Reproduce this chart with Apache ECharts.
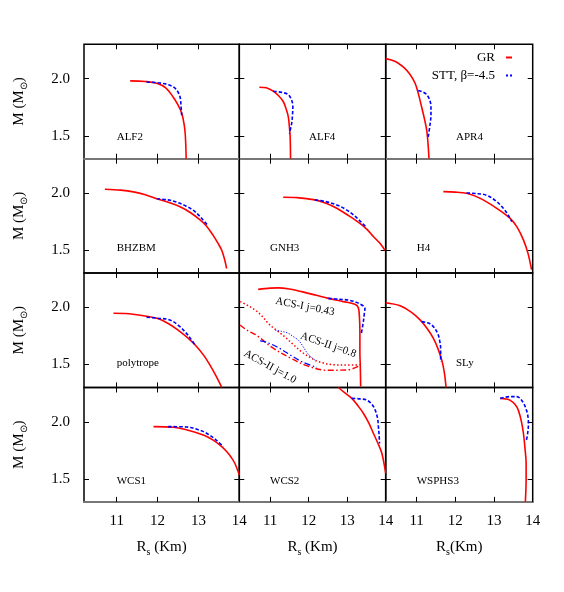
<!DOCTYPE html>
<html><head><meta charset="utf-8">
<script src="https://cdn.jsdelivr.net/npm/echarts@6/dist/echarts.min.js"></script>
<style>html,body{margin:0;padding:0;background:#fff}#c{width:564px;height:592px}</style>
</head><body><div id="c"></div>
<script>
// ---- data ----
const xTicks = [11, 12, 13, 14];
const yTicks = [1.5, 2.0];
const xRange = [10.2, 14];
const yRange = [1.3, 2.3];
const eosLabels = ['ALF2','ALF4','APR4','BHZBM','GNH3','H4','polytrope','','SLy','WCS1','WCS2','WSPHS3'];
const xNames = ['{a|R}{s|s}{a| (Km)}', '{a|R}{s|s}{a| (Km)}', '{a|R}{s|s}{a|(Km)}'];
const yName = '{a|M (M}{s|⊙}{a|)}';
const legendGR = 'GR';
const legendSTT = 'STT, β=-4.5';

const ALF2_GR = [[11.33,1.98],[11.7,1.975],[11.98,1.96],[12.2,1.92],[12.38,1.84],[12.5,1.77],[12.59,1.70],[12.65,1.60],[12.68,1.50],[12.7,1.30]];
const ALF2_STT = [[11.73,1.97],[12.1,1.96],[12.35,1.935],[12.47,1.90],[12.55,1.84],[12.57,1.78],[12.59,1.68]];
const ALF4_GR = [[10.72,1.925],[10.9,1.92],[11.08,1.89],[11.22,1.85],[11.34,1.80],[11.42,1.73],[11.47,1.67],[11.5,1.58],[11.52,1.49],[11.53,1.30]];
const ALF4_STT = [[11.08,1.89],[11.3,1.88],[11.47,1.86],[11.56,1.81],[11.59,1.76],[11.58,1.68],[11.56,1.61],[11.50,1.52]];
const APR4_GR = [[10.2,2.175],[10.45,2.15],[10.66,2.10],[10.82,2.04],[10.96,1.96],[11.05,1.86],[11.13,1.75],[11.2,1.65],[11.26,1.55],[11.29,1.45],[11.32,1.30]];
const APR4_STT = [[11.04,1.895],[11.15,1.885],[11.26,1.86],[11.34,1.81],[11.37,1.755],[11.37,1.68],[11.35,1.61],[11.30,1.49]];
const BHZBM_GR = [[10.71,2.033],[11.1,2.025],[11.41,2.01],[11.7,1.985],[11.98,1.95],[12.3,1.915],[12.55,1.88],[12.8,1.83],[13.04,1.765],[13.2,1.71],[13.36,1.63],[13.48,1.56],[13.57,1.50],[13.64,1.42],[13.69,1.34]];
const BHZBM_STT = [[11.98,1.95],[12.25,1.94],[12.47,1.92],[12.7,1.885],[12.87,1.85],[13.05,1.79],[13.24,1.71]];
const GNH3_GR = [[11.34,1.963],[11.7,1.96],[12.16,1.94],[12.45,1.91],[12.73,1.867],[13.05,1.80],[13.33,1.735],[13.52,1.68],[13.68,1.62],[13.85,1.56],[13.98,1.50]];
const GNH3_STT = [[12.16,1.94],[12.45,1.925],[12.73,1.896],[12.95,1.86],[13.16,1.81],[13.35,1.75],[13.5,1.70]];
const H4_GR = [[11.69,2.012],[12.0,2.008],[12.29,1.998],[12.5,1.975],[12.72,1.94],[13.1,1.86],[13.41,1.78],[13.6,1.70],[13.76,1.59],[13.88,1.47],[13.97,1.33]];
const H4_STT = [[12.29,2.0],[12.55,1.995],[12.81,1.98],[13.05,1.93],[13.24,1.867],[13.36,1.81],[13.46,1.75]];
const POLY_GR = [[10.92,1.948],[11.4,1.94],[11.98,1.904],[12.3,1.85],[12.55,1.787],[12.78,1.72],[12.96,1.656],[13.13,1.58],[13.28,1.497],[13.43,1.40],[13.57,1.30]];
const POLY_STT = [[11.73,1.913],[12.0,1.905],[12.3,1.89],[12.5,1.845],[12.67,1.787],[12.8,1.73],[12.92,1.67]];
const ACS1_GR = [[10.69,2.157],[11.0,2.168],[11.21,2.17],[11.5,2.16],[11.82,2.137],[12.2,2.105],[12.51,2.078],[12.9,2.05],[13.2,2.027],[13.29,1.997],[13.32,1.90],[13.33,1.79],[13.33,1.60],[13.34,1.497],[13.35,1.307]];
const ACS1_STT = [[12.51,2.078],[12.8,2.07],[13.03,2.063],[13.3,2.035],[13.46,1.99],[13.44,1.93],[13.42,1.875],[13.36,1.757]];
const ACS2a_GR = [[10.22,2.05],[10.4,2.02],[10.61,1.977],[10.8,1.92],[10.95,1.86],[11.2,1.79],[11.39,1.74],[11.6,1.675],[11.82,1.61],[12.05,1.56],[12.25,1.525],[12.68,1.497],[13.12,1.495],[13.33,1.497]];
const ACS2a_STT = [[11.13,1.80],[11.3,1.79],[11.47,1.773],[11.62,1.74],[11.73,1.714],[11.85,1.66],[11.95,1.607],[12.05,1.57],[12.16,1.54]];
const ACS2b_GR = [[10.22,1.846],[10.4,1.80],[10.65,1.755],[11.07,1.645],[11.52,1.558],[11.95,1.49],[12.47,1.45],[12.99,1.452],[13.33,1.49]];
const ACS2b_STT = [[10.74,1.706],[10.9,1.695],[11.17,1.656],[11.52,1.584],[11.82,1.525],[12.21,1.475]];
const SLY_GR = [[10.2,2.04],[10.57,2.014],[10.85,1.96],[11.09,1.89],[11.28,1.81],[11.43,1.73],[11.56,1.63],[11.66,1.525],[11.72,1.42],[11.76,1.30]];
const SLY_STT = [[11.13,1.875],[11.28,1.865],[11.39,1.846],[11.5,1.80],[11.56,1.758],[11.6,1.70],[11.62,1.642],[11.62,1.58],[11.62,1.525]];
const WCS1_GR = [[11.90,1.958],[12.39,1.952],[12.88,1.914],[13.15,1.88],[13.36,1.84],[13.55,1.79],[13.69,1.74],[13.8,1.69],[13.89,1.638],[14.0,1.536]];
const WCS1_STT = [[12.26,1.958],[12.71,1.955],[13.0,1.93],[13.2,1.90],[13.42,1.845],[13.61,1.783]];
const WCS2_GR = [[12.77,2.3],[12.95,2.25],[13.12,2.205],[13.28,2.14],[13.42,2.075],[13.56,1.99],[13.68,1.90],[13.8,1.81],[13.9,1.725],[14.0,1.55]];
const WCS2_STT = [[13.12,2.205],[13.35,2.20],[13.51,2.19],[13.65,2.15],[13.73,2.10],[13.79,2.03],[13.81,1.958],[13.83,1.88],[13.84,1.81]];
const WSPHS3_GR = [[13.16,2.205],[13.3,2.2],[13.41,2.19],[13.55,2.15],[13.63,2.10],[13.71,2.0],[13.76,1.90],[13.8,1.77],[13.83,1.638],[13.83,1.5],[13.81,1.3]];
const WSPHS3_STT = [[13.16,2.205],[13.4,2.22],[13.59,2.22],[13.75,2.17],[13.84,2.10],[13.88,2.04],[13.89,1.987],[13.87,1.9],[13.83,1.827]];

// ---- layout / style ----
const FONT = 'Liberation Serif, Times New Roman, serif';
const RED = '#ff0000', BLUE = '#0000ff';
const colLeft = [84, 239.3, 385.7], colW = [155.3, 146.4, 147];
const rowTop = [44.3, 158.7, 273, 387.5], rowH = 114.4;

const panels = [
  {gr: ALF2_GR, stt: ALF2_STT}, {gr: ALF4_GR, stt: ALF4_STT}, {gr: APR4_GR, stt: APR4_STT},
  {gr: BHZBM_GR, stt: BHZBM_STT}, {gr: GNH3_GR, stt: GNH3_STT}, {gr: H4_GR, stt: H4_STT},
  {gr: POLY_GR, stt: POLY_STT}, {acs: true}, {gr: SLY_GR, stt: SLY_STT},
  {gr: WCS1_GR, stt: WCS1_STT}, {gr: WCS2_GR, stt: WCS2_STT}, {gr: WSPHS3_GR, stt: WSPHS3_STT}
];

const grid = [], xAxis = [], yAxis = [], series = [];
const richSub = {
  a: {fontFamily: FONT, fontSize: 15, color: '#000', lineHeight: 20},
  s: {fontFamily: FONT, fontSize: 10, color: '#000', lineHeight: 10, verticalAlign: 'bottom'}
};

function line(name, data, gi, color, type, width) {
  return {
    type: 'line', name, data, xAxisIndex: 2 * gi, yAxisIndex: 2 * gi,
    symbol: 'none', showSymbol: false, smooth: 0.35, animation: false,
    lineStyle: {color, type, width}, itemStyle: {color}
  };
}

panels.forEach((p, i) => {
  const r = Math.floor(i / 3), c = i % 3;
  grid.push({left: colLeft[c], top: rowTop[r], width: colW[c], height: rowH,
    show: true, borderColor: '#000', borderWidth: 1.5, backgroundColor: 'transparent'});
  const grayBottom = (r === 0 || r === 3);
  xAxis.push({
    gridIndex: i, type: 'value', min: xRange[0], max: xRange[1], position: 'bottom',
    axisLine: {show: grayBottom, onZero: false, lineStyle: {color: '#777', width: 2.2}},
    axisTick: {show: true, inside: true, length: 5, customValues: xTicks, lineStyle: {color: '#000', width: 1}},
    axisLabel: {show: r === 3, customValues: xTicks, margin: 12, hideOverlap: false,
      fontFamily: FONT, fontSize: 15, color: '#000'},
    splitLine: {show: false},
    name: r === 3 ? xNames[c] : '', nameLocation: 'middle', nameGap: 35,
    nameTextStyle: {rich: richSub}
  });
  xAxis.push({
    gridIndex: i, type: 'value', min: xRange[0], max: xRange[1], position: 'top',
    axisLine: {show: false},
    axisTick: {show: true, inside: true, length: 5, customValues: xTicks, lineStyle: {color: '#000', width: 1}},
    axisLabel: {show: false}, splitLine: {show: false}
  });
  yAxis.push({
    gridIndex: i, type: 'value', min: yRange[0], max: yRange[1], position: 'left',
    axisLine: {show: false, onZero: false},
    axisTick: {show: true, inside: true, length: 5, customValues: yTicks, lineStyle: {color: '#000', width: 1}},
    axisLabel: {show: c === 0, customValues: yTicks, margin: 14, formatter: v => v.toFixed(1),
      fontFamily: FONT, fontSize: 15, color: '#000'},
    splitLine: {show: false},
    name: c === 0 ? yName : '', nameLocation: 'middle', nameRotate: 90, nameGap: 55,
    nameTextStyle: {rich: richSub}
  });
  yAxis.push({
    gridIndex: i, type: 'value', min: yRange[0], max: yRange[1], position: 'right',
    axisLine: {show: false},
    axisTick: {show: true, inside: true, length: 5, customValues: yTicks, lineStyle: {color: '#000', width: 1}},
    axisLabel: {show: false}, splitLine: {show: false}
  });
  if (p.acs) {
    series.push(line('GR ACS-I', ACS1_GR, i, RED, 'solid', 1.6));
    series.push(line('STT ACS-I', ACS1_STT, i, BLUE, [3.5, 2], 1.6));
    series.push(line('GR ACS-II 0.8', ACS2a_GR, i, RED, [1.5, 2.2], 1.5));
    series.push(line('STT ACS-II 0.8', ACS2a_STT, i, BLUE, [1.2, 1.6], 1));
    series.push(line('GR ACS-II 1.0', ACS2b_GR, i, RED, [6, 2.5, 1.5, 2.5], 1.4));
    series.push(line('STT ACS-II 1.0', ACS2b_STT, i, BLUE, [6, 2.5, 1.5, 2.5], 1.2));
  } else {
    series.push(line(legendGR, p.gr, i, RED, 'solid', 1.6));
    series.push(line(legendSTT, p.stt, i, BLUE, [3.5, 2], 1.6));
  }
});

// panel labels
const labelPos = [[116.7,136.7],[309,136.7],[456,136.7],[116.7,247.7],[270,247.7],[416.7,247.7],
  [116.7,362.7],null,[456,363],[116.7,480.7],[270,480.7],[416.7,480.7]];
const graphic = [];
eosLabels.forEach((t, i) => {
  if (!t) return;
  graphic.push({type: 'text', x: labelPos[i][0], y: labelPos[i][1], z: 10,
    style: {text: t, font: '11px ' + FONT, fill: '#000', align: 'left', verticalAlign: 'middle'}});
});
const acsLabels = [
  {t: 'ACS-I j=0.43', x: 305, y: 306.7, a: -11},
  {t: 'ACS-II j=0.8', x: 328.3, y: 345, a: -19},
  {t: 'ACS-II j=1.0', x: 270, y: 366.7, a: -29}
];
acsLabels.forEach(l => graphic.push({type: 'text', x: l.x, y: l.y, rotation: l.a * Math.PI / 180, z: 10,
  style: {text: l.t, font: '11px ' + FONT, fill: '#000', align: 'center', verticalAlign: 'middle'}}));

const chart = echarts.init(document.getElementById('c'), null, {renderer: 'canvas'});
chart.setOption({
  backgroundColor: '#fff',
  animation: false,
  grid, xAxis, yAxis, series, graphic,
  legend: {
    data: [
      {name: legendGR, icon: 'path://M0,0h6v2h-6z'},
      {name: legendSTT, icon: 'path://M0,0h2v2h-2zM4,0h2v2h-2z'}
    ],
    orient: 'vertical', align: 'right', padding: 0,
    right: 52, top: 51, itemWidth: 6, itemHeight: 2, itemGap: 5,
    selectedMode: false,
    textStyle: {fontFamily: FONT, fontSize: 13, color: '#000', padding: [0, 6, 0, 0]}
  }
});
</script></body></html>
